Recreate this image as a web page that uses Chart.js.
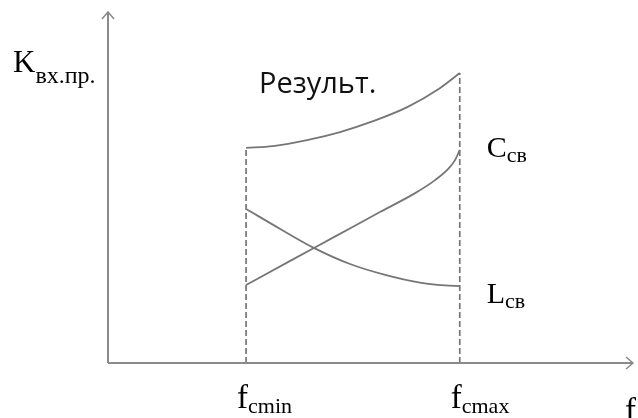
<!DOCTYPE html>
<html>
<head>
<meta charset="utf-8">
<script src="https://cdn.jsdelivr.net/npm/chart.js@4.4.1/dist/chart.umd.min.js"></script>
<style>
  html, body { margin: 0; padding: 0; background: #fff; }
  #wrap { width: 638px; height: 418px; }
</style>
</head>
<body>
<div id="wrap"><canvas id="chart" width="638" height="418"></canvas></div>
<script>
// tick positions on the frequency axis
const fcMin = 2.63;
const fcMax = 6.70;
const tickLabels = [["f", "cmin"], ["f", "cmax"]];

// resulting curve
const resultX = [2.63, 3.14, 3.79, 4.42, 5.05, 5.70, 6.32, 6.70];
const resultY = [6.13, 6.18, 6.35, 6.58, 6.89, 7.29, 7.83, 8.26];

// C св
const capX = [2.63, 3.47, 4.32, 5.18, 5.85, 6.23, 6.48, 6.61, 6.70];
const capY = [2.22, 2.91, 3.60, 4.30, 4.84, 5.21, 5.53, 5.78, 6.07];

// L св
const indX = [2.63, 3.28, 3.92, 4.61, 5.28, 5.94, 6.42, 6.70];
const indY = [4.39, 3.82, 3.28, 2.82, 2.51, 2.29, 2.21, 2.19];

const lineColor = "#767676";
const axisColor = "#8a8a8a";

function toPoints(xs, ys) {
  return xs.map((x, i) => ({ x, y: ys[i] }));
}

function curve(xs, ys) {
  return {
    data: toPoints(xs, ys),
    showLine: true,
    borderColor: lineColor,
    borderWidth: 1.8,
    pointRadius: 0,
    cubicInterpolationMode: "monotone",
    fill: false
  };
}

function dashed(x, top) {
  return {
    data: [{ x, y: 0 }, { x, y: top }],
    showLine: true,
    borderColor: lineColor,
    borderWidth: 1.7,
    borderDash: [6, 3],
    pointRadius: 0,
    fill: false
  };
}

function drawSub(ctx, main, sub, x, base, drop, mainSize, subSize) {
  ctx.font = mainSize + "px 'Liberation Serif', 'Times New Roman', serif";
  ctx.textBaseline = "alphabetic";
  ctx.textAlign = "left";
  ctx.fillText(main, x, base);
  const w = ctx.measureText(main).width;
  ctx.font = subSize + "px 'Liberation Serif', 'Times New Roman', serif";
  ctx.fillText(sub, x + w, base + drop);
}

const sketchPlugin = {
  id: "sketch",
  afterDraw(chart) {
    const ctx = chart.ctx;
    const xs = chart.scales.x;
    const ys = chart.scales.y;
    const x0 = xs.getPixelForValue(0);
    const y0 = ys.getPixelForValue(0);
    const xEnd = xs.getPixelForValue(xs.max);
    const yEnd = ys.getPixelForValue(ys.max);

    ctx.save();
    ctx.strokeStyle = axisColor;
    ctx.lineWidth = 2;
    ctx.beginPath();
    ctx.moveTo(x0, y0);
    ctx.lineTo(x0, yEnd);
    ctx.moveTo(x0, y0);
    ctx.lineTo(xEnd, y0);
    ctx.stroke();

    ctx.lineWidth = 1.5;
    ctx.beginPath();
    ctx.moveTo(x0 - 6, yEnd + 7);
    ctx.lineTo(x0, yEnd);
    ctx.lineTo(x0 + 6, yEnd + 7);
    ctx.moveTo(xEnd - 7, y0 - 6);
    ctx.lineTo(xEnd, y0);
    ctx.lineTo(xEnd - 7, y0 + 6);
    ctx.stroke();

    ctx.fillStyle = "#000";
    drawSub(ctx, "K", "вх.пр.", 13, 72, 11, 31, 24);

    [fcMin, fcMax].forEach((v, i) => {
      const px = xs.getPixelForValue(v);
      drawSub(ctx, tickLabels[i][0], tickLabels[i][1], px - 9, 408, 5, 33, 22);
    });
    ctx.font = "33px 'Liberation Serif', serif";
    ctx.fillText("f", xEnd - 8, 421);

    const xLab = xs.getPixelForValue(fcMax) + 27;
    drawSub(ctx, "C", "св", xLab, ys.getPixelForValue(capY[capY.length - 1]) + 7, 5, 30, 22);
    drawSub(ctx, "L", "св", xLab, ys.getPixelForValue(indY[indY.length - 1]) + 17, 5, 30, 22);

    ctx.fillStyle = "#111";
    ctx.font = "29px 'Open Sans', sans-serif";
    ctx.fillText("Результ.", 259, 93);
    ctx.restore();
  }
};

new Chart(document.getElementById("chart"), {
  type: "scatter",
  data: {
    datasets: [
      dashed(fcMin, resultY[0]),
      dashed(fcMax, resultY[resultY.length - 1]),
      curve(resultX, resultY),
      curve(capX, capY),
      curve(indX, indY)
    ]
  },
  options: {
    responsive: false,
    animation: false,
    layout: { padding: { left: 108, right: 5, top: 12, bottom: 55 } },
    plugins: { legend: { display: false }, tooltip: { enabled: false } },
    scales: {
      x: { type: "linear", min: 0, max: 10, display: false },
      y: { type: "linear", min: 0, max: 10, display: false }
    }
  },
  plugins: [sketchPlugin]
});
</script>
</body>
</html>
